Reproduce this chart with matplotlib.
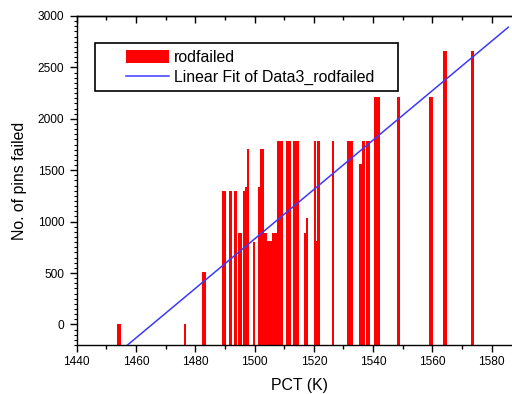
import numpy as np
import matplotlib
matplotlib.use("Agg")
import matplotlib.pyplot as plt
from matplotlib.ticker import MultipleLocator
from matplotlib.patches import Rectangle

plt.rcParams['font.family'] = ['Liberation Sans', 'DejaVu Sans']

# ---- data ----
pct = [1454.05, 1454.55, 1476.65, 1482.75, 1483.25,
       1489.45, 1490.05, 1491.85, 1493.35, 1493.85, 1494.85, 1495.35,
       1496.6, 1497.2, 1497.85, 1499.7, 1501.5, 1502.15, 1502.65,
       1503.35, 1503.85, 1504.55, 1505.05, 1505.55, 1506.25, 1506.7, 1507.15,
       1507.85, 1508.45, 1509.05, 1510.85, 1511.4, 1511.95,
       1513.45, 1514.05, 1514.65, 1517.1, 1517.75,
       1520.3, 1520.95, 1521.6, 1526.5,
       1531.45, 1532.0, 1532.5, 1532.95, 1535.65, 1535.95, 1536.65, 1536.85,
       1537.95, 1538.65, 1540.65, 1541.3, 1541.95, 1548.55,
       1559.35, 1559.75, 1564.05, 1564.45, 1573.5]
rodfailed = [0, 0, 0, 512, 512,
             1295, 1295, 1300, 1300, 1300, 885, 885,
             1300, 1335, 1705, 800, 1335, 1705, 1705,
             885, 885, 810, 810, 810, 885, 885, 885,
             1780, 1780, 1780, 1780, 1780, 1780,
             1780, 1780, 1780, 885, 1036,
             1780, 810, 1780, 1780,
             1780, 1780, 1780, 1780, 1560, 1560, 1780, 1780,
             1780, 1780, 2216, 2216, 2216, 2216,
             2216, 2216, 2663, 2663, 2663]
fit_slope = 24.06
fit_intercept = -35259.0
fit_x = [1455.0, 1585.6]
xticks = [1440, 1460, 1480, 1500, 1520, 1540, 1560, 1580]
yticks = [0, 500, 1000, 1500, 2000, 2500, 3000]

XMIN, XMAX = 1440, 1590
YMIN, YMAX = -200, 3000
BAR_W = 0.78

fig = plt.figure(figsize=(5.12, 3.94), dpi=100)
ax = fig.add_axes([0.1498, 0.1244, 0.8684, 0.835])

vals = np.array(rodfailed, dtype=float)
bars = ax.bar(pct, vals - YMIN, bottom=YMIN, width=BAR_W, color='#ff0000',
              edgecolor='none', linewidth=0, label='rodfailed', zorder=2)

fx = np.array(fit_x)
line, = ax.plot(fx, fit_slope * fx + fit_intercept, color='#3a3aff', lw=1.1,
                label='Linear Fit of Data3_rodfailed', zorder=3)

ax.set_xlim(XMIN, XMAX)
ax.set_ylim(YMIN, YMAX)
ax.set_xticks(xticks)
ax.set_yticks(yticks)
ax.xaxis.set_minor_locator(MultipleLocator(10))
ax.yaxis.set_minor_locator(MultipleLocator(50))

for s in ['left', 'bottom', 'top']:
    ax.spines[s].set_linewidth(1.0)
ax.spines['right'].set_visible(False)

ax.tick_params(axis='x', which='major', direction='out', length=5, width=1,
               labelsize=8.6, pad=3, top=False)
ax.tick_params(axis='x', which='minor', direction='out', length=3, width=1, top=False)
ax.tick_params(axis='y', which='major', direction='out', length=5, width=1,
               labelsize=8.6, pad=4)
ax.tick_params(axis='y', which='minor', direction='out', length=2.5, width=0.8)

# top inward ticks
sec = ax.secondary_xaxis('top')
sec.set_xticks(xticks)
sec.xaxis.set_minor_locator(MultipleLocator(10))
sec.tick_params(which='major', direction='in', length=5, width=1, labeltop=False)
sec.tick_params(which='minor', direction='in', length=3, width=1)
sec.spines['top'].set_linewidth(1.0)

ax.set_xlabel('PCT (K)', fontsize=11.4, labelpad=7)
ax.set_ylabel('No. of pins failed', fontsize=11.4, labelpad=8)

leg = ax.legend(handles=[bars, line], loc='upper left', bbox_to_anchor=(0.111, 0.898),
                borderpad=0, borderaxespad=0, frameon=False, fontsize=11.4,
                handlelength=2.7, handleheight=0.9, handletextpad=0.3,
                labelspacing=0.35)
ax.add_patch(Rectangle((0.042, 0.773), 0.695 * 435.3 / 444.6, 0.144,
                       transform=ax.transAxes, fill=False, ec='black', lw=1.2,
                       zorder=5, clip_on=False))

fig.savefig('out.png', dpi=100)
